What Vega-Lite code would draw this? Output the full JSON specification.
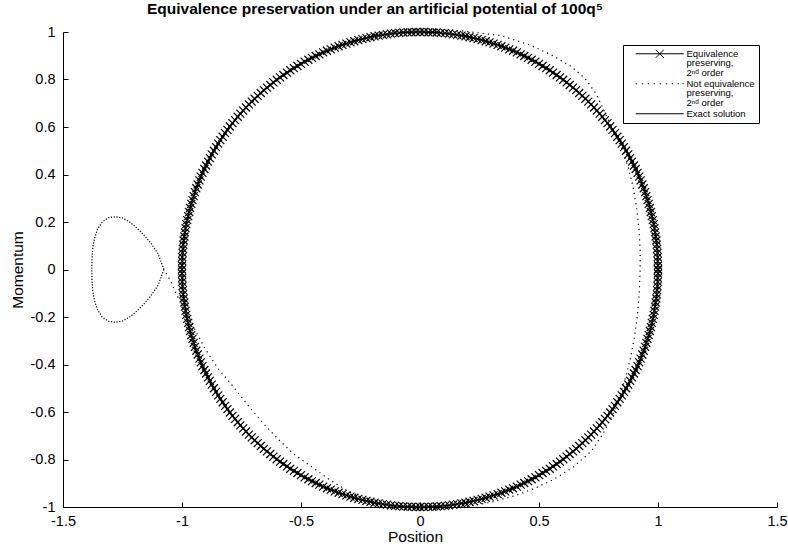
{
"$schema": "https://vega.github.io/schema/vega-lite/v6.json",
"width": 714, "height": 475,
"autosize": {"type": "none"},
"padding": {"left": 63, "top": 32, "right": 11, "bottom": 39},
"background": "white",
"title": {"text": "Equivalence preservation under an artificial potential of 100q⁵", "fontSize": 15.5, "fontWeight": "bold", "font": "Liberation Sans", "color": "black", "anchor": "start", "dx": 84, "frame": "group", "offset": 0, "baseline": "middle"},
"config": {
 "view": {"stroke": null},
 "font": "Liberation Sans",
 "axis": {"grid": false, "domainColor": "black", "tickColor": "black", "labelColor": "black", "titleColor": "black", "labelFont": "Liberation Sans", "titleFont": "Liberation Sans", "labelFontSize": 14.5, "titleFontSize": 15.5, "titleFontWeight": "normal", "tickSize": -5, "labelFlush": false, "labelOverlap": false, "labelBound": false, "domainWidth": 1, "tickWidth": 1}
},
"encoding": {
 "x": {"field": "q", "type": "quantitative", "scale": {"domain": [-1.5, 1.5], "nice": false, "zero": false}, "axis": {"values": [-1.5, -1, -0.5, 0, 0.5, 1, 1.5], "labelExpr": "'' + datum.value", "labelPadding": 12, "title": "Position", "titlePadding": 2, "titleX": 352}},
 "y": {"field": "p", "type": "quantitative", "scale": {"domain": [-1, 1], "nice": false, "zero": false}, "axis": {"values": [-1, -0.8, -0.6, -0.4, -0.2, 0, 0.2, 0.4, 0.6, 0.8, 1], "labelExpr": "'' + datum.value", "labelPadding": 13, "title": "Momentum", "titlePadding": 5}}
},
"datasets": {
"orbit": [{"q":-1,"p":0},{"q":-0.985,"p":0.174},{"q":-0.94,"p":0.342},{"q":-0.866,"p":0.5},{"q":-0.766,"p":0.643},{"q":-0.643,"p":0.766},{"q":-0.5,"p":0.868},{"q":-0.342,"p":0.943},{"q":-0.174,"p":0.995},{"q":0,"p":1.012},{"q":0.174,"p":1.005},{"q":0.34,"p":0.985},{"q":0.462,"p":0.945},{"q":0.559,"p":0.9},{"q":0.635,"p":0.855},{"q":0.693,"p":0.805},{"q":0.74,"p":0.74},{"q":0.775,"p":0.665},{"q":0.81,"p":0.59},{"q":0.848,"p":0.51},{"q":0.875,"p":0.43},{"q":0.895,"p":0.35},{"q":0.91,"p":0.26},{"q":0.92,"p":0.17},{"q":0.925,"p":0.08},{"q":0.925,"p":0},{"q":0.921,"p":-0.1},{"q":0.913,"p":-0.2},{"q":0.9,"p":-0.29},{"q":0.885,"p":-0.37},{"q":0.865,"p":-0.45},{"q":0.84,"p":-0.53},{"q":0.81,"p":-0.61},{"q":0.77,"p":-0.69},{"q":0.72,"p":-0.765},{"q":0.644,"p":-0.832},{"q":0.56,"p":-0.885},{"q":0.48,"p":-0.922},{"q":0.4,"p":-0.952},{"q":0.3,"p":-0.98},{"q":0.17,"p":-1.003},{"q":0,"p":-1.008},{"q":-0.17,"p":-0.99},{"q":-0.3,"p":-0.935},{"q":-0.38,"p":-0.885},{"q":-0.434,"p":-0.846},{"q":-0.532,"p":-0.776},{"q":-0.6,"p":-0.71},{"q":-0.658,"p":-0.649},{"q":-0.72,"p":-0.575},{"q":-0.784,"p":-0.494},{"q":-0.85,"p":-0.415},{"q":-0.905,"p":-0.33},{"q":-0.95,"p":-0.245},{"q":-0.985,"p":-0.17},{"q":-1.022,"p":-0.108},{"q":-1.05,"p":-0.044},{"q":-1.076,"p":0}],
"loop": [{"q":-1.076,"p":0},{"q":-1.1,"p":-0.065},{"q":-1.13,"p":-0.11},{"q":-1.16,"p":-0.145},{"q":-1.19,"p":-0.175},{"q":-1.22,"p":-0.2},{"q":-1.25,"p":-0.217},{"q":-1.28,"p":-0.222},{"q":-1.31,"p":-0.218},{"q":-1.335,"p":-0.2},{"q":-1.355,"p":-0.17},{"q":-1.368,"p":-0.13},{"q":-1.375,"p":-0.09},{"q":-1.378,"p":-0.045},{"q":-1.379,"p":0},{"q":-1.378,"p":0.045},{"q":-1.375,"p":0.09},{"q":-1.368,"p":0.13},{"q":-1.355,"p":0.17},{"q":-1.335,"p":0.2},{"q":-1.31,"p":0.218},{"q":-1.28,"p":0.222},{"q":-1.25,"p":0.217},{"q":-1.22,"p":0.2},{"q":-1.19,"p":0.175},{"q":-1.16,"p":0.145},{"q":-1.13,"p":0.11},{"q":-1.1,"p":0.065},{"q":-1.076,"p":0}],
"circle": [
{"q":1,"p":0},{"q":1,"p":0.017},{"q":0.999,"p":0.035},{"q":0.999,"p":0.052},{"q":0.998,"p":0.07},{"q":0.996,"p":0.087},{"q":0.995,"p":0.105},{"q":0.993,"p":0.122},{"q":0.99,"p":0.139},{"q":0.988,"p":0.156},
{"q":0.985,"p":0.174},{"q":0.982,"p":0.191},{"q":0.978,"p":0.208},{"q":0.974,"p":0.225},{"q":0.97,"p":0.242},{"q":0.966,"p":0.259},{"q":0.961,"p":0.276},{"q":0.956,"p":0.292},{"q":0.951,"p":0.309},{"q":0.946,"p":0.326},
{"q":0.94,"p":0.342},{"q":0.934,"p":0.358},{"q":0.927,"p":0.375},{"q":0.921,"p":0.391},{"q":0.914,"p":0.407},{"q":0.906,"p":0.423},{"q":0.899,"p":0.438},{"q":0.891,"p":0.454},{"q":0.883,"p":0.469},{"q":0.875,"p":0.485},
{"q":0.866,"p":0.5},{"q":0.857,"p":0.515},{"q":0.848,"p":0.53},{"q":0.839,"p":0.545},{"q":0.829,"p":0.559},{"q":0.819,"p":0.574},{"q":0.809,"p":0.588},{"q":0.799,"p":0.602},{"q":0.788,"p":0.616},{"q":0.777,"p":0.629},
{"q":0.766,"p":0.643},{"q":0.755,"p":0.656},{"q":0.743,"p":0.669},{"q":0.731,"p":0.682},{"q":0.719,"p":0.695},{"q":0.707,"p":0.707},{"q":0.695,"p":0.719},{"q":0.682,"p":0.731},{"q":0.669,"p":0.743},{"q":0.656,"p":0.755},
{"q":0.643,"p":0.766},{"q":0.629,"p":0.777},{"q":0.616,"p":0.788},{"q":0.602,"p":0.799},{"q":0.588,"p":0.809},{"q":0.574,"p":0.819},{"q":0.559,"p":0.829},{"q":0.545,"p":0.839},{"q":0.53,"p":0.848},{"q":0.515,"p":0.857},
{"q":0.5,"p":0.866},{"q":0.485,"p":0.875},{"q":0.469,"p":0.883},{"q":0.454,"p":0.891},{"q":0.438,"p":0.899},{"q":0.423,"p":0.906},{"q":0.407,"p":0.914},{"q":0.391,"p":0.921},{"q":0.375,"p":0.927},{"q":0.358,"p":0.934},
{"q":0.342,"p":0.94},{"q":0.326,"p":0.946},{"q":0.309,"p":0.951},{"q":0.292,"p":0.956},{"q":0.276,"p":0.961},{"q":0.259,"p":0.966},{"q":0.242,"p":0.97},{"q":0.225,"p":0.974},{"q":0.208,"p":0.978},{"q":0.191,"p":0.982},
{"q":0.174,"p":0.985},{"q":0.156,"p":0.988},{"q":0.139,"p":0.99},{"q":0.122,"p":0.993},{"q":0.105,"p":0.995},{"q":0.087,"p":0.996},{"q":0.07,"p":0.998},{"q":0.052,"p":0.999},{"q":0.035,"p":0.999},{"q":0.017,"p":1},
{"q":0,"p":1},{"q":-0.017,"p":1},{"q":-0.035,"p":0.999},{"q":-0.052,"p":0.999},{"q":-0.07,"p":0.998},{"q":-0.087,"p":0.996},{"q":-0.105,"p":0.995},{"q":-0.122,"p":0.993},{"q":-0.139,"p":0.99},{"q":-0.156,"p":0.988},
{"q":-0.174,"p":0.985},{"q":-0.191,"p":0.982},{"q":-0.208,"p":0.978},{"q":-0.225,"p":0.974},{"q":-0.242,"p":0.97},{"q":-0.259,"p":0.966},{"q":-0.276,"p":0.961},{"q":-0.292,"p":0.956},{"q":-0.309,"p":0.951},{"q":-0.326,"p":0.946},
{"q":-0.342,"p":0.94},{"q":-0.358,"p":0.934},{"q":-0.375,"p":0.927},{"q":-0.391,"p":0.921},{"q":-0.407,"p":0.914},{"q":-0.423,"p":0.906},{"q":-0.438,"p":0.899},{"q":-0.454,"p":0.891},{"q":-0.469,"p":0.883},{"q":-0.485,"p":0.875},
{"q":-0.5,"p":0.866},{"q":-0.515,"p":0.857},{"q":-0.53,"p":0.848},{"q":-0.545,"p":0.839},{"q":-0.559,"p":0.829},{"q":-0.574,"p":0.819},{"q":-0.588,"p":0.809},{"q":-0.602,"p":0.799},{"q":-0.616,"p":0.788},{"q":-0.629,"p":0.777},
{"q":-0.643,"p":0.766},{"q":-0.656,"p":0.755},{"q":-0.669,"p":0.743},{"q":-0.682,"p":0.731},{"q":-0.695,"p":0.719},{"q":-0.707,"p":0.707},{"q":-0.719,"p":0.695},{"q":-0.731,"p":0.682},{"q":-0.743,"p":0.669},{"q":-0.755,"p":0.656},
{"q":-0.766,"p":0.643},{"q":-0.777,"p":0.629},{"q":-0.788,"p":0.616},{"q":-0.799,"p":0.602},{"q":-0.809,"p":0.588},{"q":-0.819,"p":0.574},{"q":-0.829,"p":0.559},{"q":-0.839,"p":0.545},{"q":-0.848,"p":0.53},{"q":-0.857,"p":0.515},
{"q":-0.866,"p":0.5},{"q":-0.875,"p":0.485},{"q":-0.883,"p":0.469},{"q":-0.891,"p":0.454},{"q":-0.899,"p":0.438},{"q":-0.906,"p":0.423},{"q":-0.914,"p":0.407},{"q":-0.921,"p":0.391},{"q":-0.927,"p":0.375},{"q":-0.934,"p":0.358},
{"q":-0.94,"p":0.342},{"q":-0.946,"p":0.326},{"q":-0.951,"p":0.309},{"q":-0.956,"p":0.292},{"q":-0.961,"p":0.276},{"q":-0.966,"p":0.259},{"q":-0.97,"p":0.242},{"q":-0.974,"p":0.225},{"q":-0.978,"p":0.208},{"q":-0.982,"p":0.191},
{"q":-0.985,"p":0.174},{"q":-0.988,"p":0.156},{"q":-0.99,"p":0.139},{"q":-0.993,"p":0.122},{"q":-0.995,"p":0.105},{"q":-0.996,"p":0.087},{"q":-0.998,"p":0.07},{"q":-0.999,"p":0.052},{"q":-0.999,"p":0.035},{"q":-1,"p":0.017},
{"q":-1,"p":0},{"q":-1,"p":-0.017},{"q":-0.999,"p":-0.035},{"q":-0.999,"p":-0.052},{"q":-0.998,"p":-0.07},{"q":-0.996,"p":-0.087},{"q":-0.995,"p":-0.105},{"q":-0.993,"p":-0.122},{"q":-0.99,"p":-0.139},{"q":-0.988,"p":-0.156},
{"q":-0.985,"p":-0.174},{"q":-0.982,"p":-0.191},{"q":-0.978,"p":-0.208},{"q":-0.974,"p":-0.225},{"q":-0.97,"p":-0.242},{"q":-0.966,"p":-0.259},{"q":-0.961,"p":-0.276},{"q":-0.956,"p":-0.292},{"q":-0.951,"p":-0.309},{"q":-0.946,"p":-0.326},
{"q":-0.94,"p":-0.342},{"q":-0.934,"p":-0.358},{"q":-0.927,"p":-0.375},{"q":-0.921,"p":-0.391},{"q":-0.914,"p":-0.407},{"q":-0.906,"p":-0.423},{"q":-0.899,"p":-0.438},{"q":-0.891,"p":-0.454},{"q":-0.883,"p":-0.469},{"q":-0.875,"p":-0.485},
{"q":-0.866,"p":-0.5},{"q":-0.857,"p":-0.515},{"q":-0.848,"p":-0.53},{"q":-0.839,"p":-0.545},{"q":-0.829,"p":-0.559},{"q":-0.819,"p":-0.574},{"q":-0.809,"p":-0.588},{"q":-0.799,"p":-0.602},{"q":-0.788,"p":-0.616},{"q":-0.777,"p":-0.629},
{"q":-0.766,"p":-0.643},{"q":-0.755,"p":-0.656},{"q":-0.743,"p":-0.669},{"q":-0.731,"p":-0.682},{"q":-0.719,"p":-0.695},{"q":-0.707,"p":-0.707},{"q":-0.695,"p":-0.719},{"q":-0.682,"p":-0.731},{"q":-0.669,"p":-0.743},{"q":-0.656,"p":-0.755},
{"q":-0.643,"p":-0.766},{"q":-0.629,"p":-0.777},{"q":-0.616,"p":-0.788},{"q":-0.602,"p":-0.799},{"q":-0.588,"p":-0.809},{"q":-0.574,"p":-0.819},{"q":-0.559,"p":-0.829},{"q":-0.545,"p":-0.839},{"q":-0.53,"p":-0.848},{"q":-0.515,"p":-0.857},
{"q":-0.5,"p":-0.866},{"q":-0.485,"p":-0.875},{"q":-0.469,"p":-0.883},{"q":-0.454,"p":-0.891},{"q":-0.438,"p":-0.899},{"q":-0.423,"p":-0.906},{"q":-0.407,"p":-0.914},{"q":-0.391,"p":-0.921},{"q":-0.375,"p":-0.927},{"q":-0.358,"p":-0.934},
{"q":-0.342,"p":-0.94},{"q":-0.326,"p":-0.946},{"q":-0.309,"p":-0.951},{"q":-0.292,"p":-0.956},{"q":-0.276,"p":-0.961},{"q":-0.259,"p":-0.966},{"q":-0.242,"p":-0.97},{"q":-0.225,"p":-0.974},{"q":-0.208,"p":-0.978},{"q":-0.191,"p":-0.982},
{"q":-0.174,"p":-0.985},{"q":-0.156,"p":-0.988},{"q":-0.139,"p":-0.99},{"q":-0.122,"p":-0.993},{"q":-0.105,"p":-0.995},{"q":-0.087,"p":-0.996},{"q":-0.07,"p":-0.998},{"q":-0.052,"p":-0.999},{"q":-0.035,"p":-0.999},{"q":-0.017,"p":-1},
{"q":0,"p":-1},{"q":0.017,"p":-1},{"q":0.035,"p":-0.999},{"q":0.052,"p":-0.999},{"q":0.07,"p":-0.998},{"q":0.087,"p":-0.996},{"q":0.105,"p":-0.995},{"q":0.122,"p":-0.993},{"q":0.139,"p":-0.99},{"q":0.156,"p":-0.988},
{"q":0.174,"p":-0.985},{"q":0.191,"p":-0.982},{"q":0.208,"p":-0.978},{"q":0.225,"p":-0.974},{"q":0.242,"p":-0.97},{"q":0.259,"p":-0.966},{"q":0.276,"p":-0.961},{"q":0.292,"p":-0.956},{"q":0.309,"p":-0.951},{"q":0.326,"p":-0.946},
{"q":0.342,"p":-0.94},{"q":0.358,"p":-0.934},{"q":0.375,"p":-0.927},{"q":0.391,"p":-0.921},{"q":0.407,"p":-0.914},{"q":0.423,"p":-0.906},{"q":0.438,"p":-0.899},{"q":0.454,"p":-0.891},{"q":0.469,"p":-0.883},{"q":0.485,"p":-0.875},
{"q":0.5,"p":-0.866},{"q":0.515,"p":-0.857},{"q":0.53,"p":-0.848},{"q":0.545,"p":-0.839},{"q":0.559,"p":-0.829},{"q":0.574,"p":-0.819},{"q":0.588,"p":-0.809},{"q":0.602,"p":-0.799},{"q":0.616,"p":-0.788},{"q":0.629,"p":-0.777},
{"q":0.643,"p":-0.766},{"q":0.656,"p":-0.755},{"q":0.669,"p":-0.743},{"q":0.682,"p":-0.731},{"q":0.695,"p":-0.719},{"q":0.707,"p":-0.707},{"q":0.719,"p":-0.695},{"q":0.731,"p":-0.682},{"q":0.743,"p":-0.669},{"q":0.755,"p":-0.656},
{"q":0.766,"p":-0.643},{"q":0.777,"p":-0.629},{"q":0.788,"p":-0.616},{"q":0.799,"p":-0.602},{"q":0.809,"p":-0.588},{"q":0.819,"p":-0.574},{"q":0.829,"p":-0.559},{"q":0.839,"p":-0.545},{"q":0.848,"p":-0.53},{"q":0.857,"p":-0.515},
{"q":0.866,"p":-0.5},{"q":0.875,"p":-0.485},{"q":0.883,"p":-0.469},{"q":0.891,"p":-0.454},{"q":0.899,"p":-0.438},{"q":0.906,"p":-0.423},{"q":0.914,"p":-0.407},{"q":0.921,"p":-0.391},{"q":0.927,"p":-0.375},{"q":0.934,"p":-0.358},
{"q":0.94,"p":-0.342},{"q":0.946,"p":-0.326},{"q":0.951,"p":-0.309},{"q":0.956,"p":-0.292},{"q":0.961,"p":-0.276},{"q":0.966,"p":-0.259},{"q":0.97,"p":-0.242},{"q":0.974,"p":-0.225},{"q":0.978,"p":-0.208},{"q":0.982,"p":-0.191},
{"q":0.985,"p":-0.174},{"q":0.988,"p":-0.156},{"q":0.99,"p":-0.139},{"q":0.993,"p":-0.122},{"q":0.995,"p":-0.105},{"q":0.996,"p":-0.087},{"q":0.998,"p":-0.07},{"q":0.999,"p":-0.052},{"q":0.999,"p":-0.035},{"q":1,"p":-0.017},
{"q":1,"p":0}
]
},
"layer": [
 {"data": {"name": "orbit"}, "mark": {"type": "line", "strokeDash": [1.2, 4], "strokeWidth": 1.2},
  "encoding": {"order": {"value": null},
   "color": {"datum": "neq", "scale": {"domain": ["eq", "neq", "ex"], "range": ["black", "black", "black"]},
    "legend": {"title": null, "orient": "none", "legendX": 560, "legendY": 13, "strokeColor": "black", "fillColor": "white", "padding": 4, "rowPadding": 0, "symbolSize": 64, "symbolOffset": 28, "labelOffset": 22, "labelFontSize": 9.5, "labelFont": "Liberation Sans", "labelColor": "black", "labelLimit": 0,
     "labelExpr": "datum.value == 'eq' ? ['Equivalence', 'preserving,', '2ⁿᵈ order'] : datum.value == 'neq' ? ['Not equivalence', 'preserving,', '2ⁿᵈ order'] : 'Exact solution'",
     "encode": {"symbols": {"update": {"shape": {"signal": "datum.value == 'eq' ? 'M-6,0H6M-1,-1L1,1M-1,1L1,-1' : datum.value == 'neq' ? 'M-6,0h0.3M-4.5,0h0.3M-3,0h0.3M-1.5,0h0.3M0,0h0.3M1.5,0h0.3M3,0h0.3M4.5,0h0.3M5.7,0h0.3' : 'M-6,0H6'"}, "stroke": {"value": "black"}, "strokeWidth": {"value": 1}, "fill": {"value": "transparent"}, "strokeDash": {"value": []}, "opacity": {"value": 1}}},
                "labels": {"update": {"lineHeight": {"value": 9.7}}}}
    }}}},
 {"data": {"name": "loop"}, "mark": {"type": "line", "strokeDash": [1.2, 1.6], "strokeWidth": 1.2, "color": "black"},
  "encoding": {"order": {"value": null}}},
 {"data": {"name": "circle"}, "mark": {"type": "point", "shape": "M-1,-1L1,1M-1,1L1,-1", "size": 64, "strokeWidth": 1.2, "filled": false, "opacity": 1},
  "encoding": {"color": {"datum": "eq", "scale": {"domain": ["eq", "neq", "ex"], "range": ["black", "black", "black"]}}}},
 {"data": {"name": "circle"}, "mark": {"type": "line", "strokeWidth": 1.4},
  "encoding": {"order": {"value": null}, "color": {"datum": "ex", "scale": {"domain": ["eq", "neq", "ex"], "range": ["black", "black", "black"]}}}}
]
}
